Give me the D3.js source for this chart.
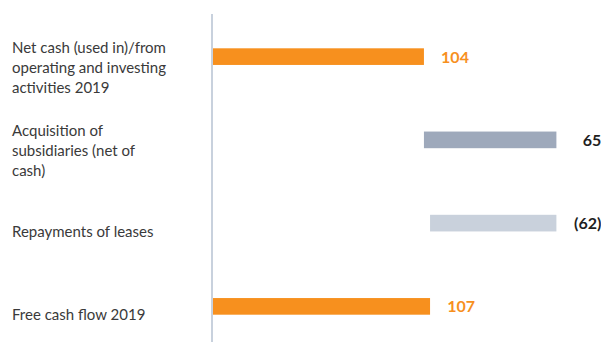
<!DOCTYPE html>
<html>
<head>
<meta charset="utf-8">
<script src="https://cdn.jsdelivr.net/npm/d3@7"></script>
<style>
  html, body { margin: 0; padding: 0; background: #ffffff; }
  svg { display: block; }
</style>
</head>
<body>
<script>
// Free cash flow bridge, 2019
const categories = [
  ["Net cash (used in)/from", "operating and investing", "activities 2019"],
  ["Acquisition of", "subsidiaries (net of", "cash)"],
  ["Repayments of leases"],
  ["Free cash flow 2019"]
];
const values = [104, 65, -62, 107];
const valueLabels = ["104", "65", "(62)", "107"];
const kinds = ["total", "step", "step", "total"];

const width = 601, height = 342;
const x0 = 212;

// running bridge: totals start at zero, steps start from the previous end
let running = 0;
const bars = values.map((v, i) => {
  let start, end;
  if (kinds[i] === "total") { start = 0; end = v; running = v; }
  else { start = running; end = running + v; running = end; }
  return { i, lo: Math.min(start, end), hi: Math.max(start, end), v };
});

const x = d3.scaleLinear().domain([0, 169]).range([x0, 556.4]);
const y = d3.scaleBand().domain(d3.range(categories.length)).range([15, 348]).paddingInner(0.8).paddingOuter(0.4);

const fillFor = d => d.i === 0 || d.i === 3 ? "#f7901e" : (d.v >= 0 ? "#9ea9bb" : "#c9d1dc");
const labelColor = d => d.i === 0 || d.i === 3 ? "#f7901e" : "#1f1f1f";

const svg = d3.select("body").append("svg").attr("width", width).attr("height", height);

// bars
svg.selectAll("rect.bar").data(bars).join("rect")
  .attr("class", "bar")
  .attr("x", d => x(d.lo) + (d.lo === 0 ? 1 : 0))
  .attr("width", d => x(d.hi) - x(d.lo) - (d.lo === 0 ? 1 : 0))
  .attr("y", d => y(d.i))
  .attr("height", y.bandwidth())
  .attr("fill", fillFor);

// baseline axis
svg.append("line")
  .attr("x1", x0).attr("x2", x0)
  .attr("y1", 14).attr("y2", height)
  .attr("stroke", "#c8d1dd").attr("stroke-width", 2);

// value labels
svg.selectAll("text.val").data(bars).join("text")
  .attr("class", "val")
  .attr("x", d => x(d.hi) + 45)
  .attr("y", d => y(d.i) + y.bandwidth() / 2 + 6)
  .attr("text-anchor", "end")
  .attr("font-family", "Lato, 'Noto Sans', sans-serif")
  .attr("font-weight", 700)
  .attr("font-size", 16)
  .attr("fill", labelColor)
  .text((d, i) => valueLabels[i]);

// category labels
const cat = svg.selectAll("text.cat").data(categories).join("text")
  .attr("class", "cat")
  .attr("font-family", "Lato, 'Noto Sans', sans-serif")
  .attr("font-size", 15)
  .attr("fill", "#3a3a3a")
  .attr("x", 12)
  .attr("y", (d, i) => y(i) + y.bandwidth() / 2 + 13.5 - (d.length - 1) * 8.75);
cat.selectAll("tspan").data(d => d).join("tspan")
  .attr("x", 12)
  .attr("dy", (d, j) => j === 0 ? 0 : 20)
  .text(d => d);
</script>
</body>
</html>
